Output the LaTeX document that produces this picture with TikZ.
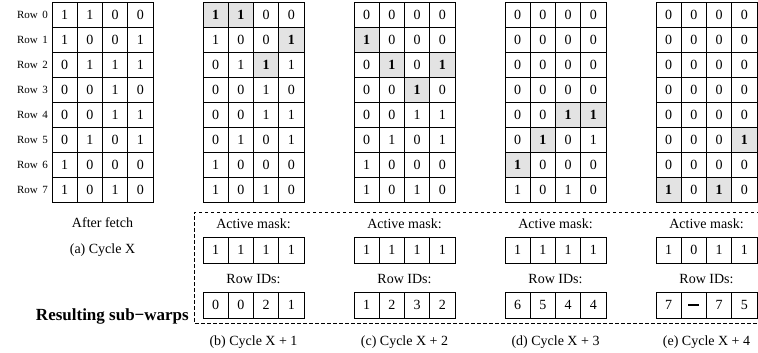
\documentclass[tikz,border=0pt]{standalone}
\usepackage{fontspec}
\setmainfont{Liberation Serif}
\tikzset{
  cell/.style={draw, line width=0.7pt, minimum width=25.25pt, minimum height=25pt, inner sep=0pt, anchor=center, font=\fontsize{14}{14}\selectfont},
  hl/.style={cell, fill=black!11, font=\fontsize{14}{14}\selectfont\bfseries},
  mcell/.style={draw, line width=0.7pt, minimum width=25.25pt, minimum height=26pt, inner sep=0pt, anchor=center, font=\fontsize{14}{14}\selectfont},
  lab/.style={inner sep=0pt, anchor=center, font=\fontsize{14}{14}\selectfont},
  rowlab/.style={inner sep=0pt, anchor=east, font=\fontsize{11}{11}\selectfont},
  boxline/.style={line width=0.8pt, dash pattern=on 3.5pt off 2.5pt}
}
\newcommand\drawgrid[3]{%
  \foreach \rowvals [count=\r from 0] in {#3} {
    \foreach \v [count=\c from 0] in \rowvals {
      \node[cell] (#1-\r-\c) at ({#2+12.625+25.25*\c},{15+25*\r}) {\v};
    }
  }
}
\newcommand\hlcells[3]{%
  \foreach \r/\c in {#3} {
    \node[hl] (#1-h-\r-\c) at ({#2+12.625+25.25*\c},{15+25*\r}) {1};
  }
}
\newcommand\subwarp[5]{%
  \node[lab] (#1-mtitle) at ({#2+50.5},224) {Active mask:};
  \foreach \v [count=\c from 0] in {#3} {
    \node[mcell] (#1-m-\c) at ({#2+12.625+25.25*\c},250) {\v};
  }
  \node[lab] (#1-ititle) at ({#2+50.5},279) {Row IDs:};
  \foreach \v [count=\c from 0] in {#4} {
    \node[mcell] (#1-i-\c) at ({#2+12.625+25.25*\c},305) {\v};
  }
  \node[lab] (#1-cap) at ({#2+50.5},342) {#5};
}
\newcommand\nodash{\rule{11pt}{1.8pt}}
\begin{document}
\begin{tikzpicture}[x=1pt,y=-1pt]
\useasboundingbox (0,0) rectangle (758,353);
% row labels
\foreach \r in {0,...,7} {
  \node[rowlab] (rl\r) at (48,{15+25*\r}) {Row\hspace{0.4em}\r};
}
% grid (a)
\drawgrid{ga}{52}{{1,1,0,0},{1,0,0,1},{0,1,1,1},{0,0,1,0},{0,0,1,1},{0,1,0,1},{1,0,0,0},{1,0,1,0}}
\node[lab] (after) at (102.5,223) {After fetch};
\node[lab] (capa) at (102.5,250) {(a) Cycle X};
% grid (b)
\drawgrid{gb}{203}{{1,1,0,0},{1,0,0,1},{0,1,1,1},{0,0,1,0},{0,0,1,1},{0,1,0,1},{1,0,0,0},{1,0,1,0}}
\hlcells{gb}{203}{0/0,0/1,1/3,2/2}
% grid (c)
\drawgrid{gc}{354}{{0,0,0,0},{1,0,0,0},{0,1,0,1},{0,0,1,0},{0,0,1,1},{0,1,0,1},{1,0,0,0},{1,0,1,0}}
\hlcells{gc}{354}{1/0,2/1,2/3,3/2}
% grid (d)
\drawgrid{gd}{505}{{0,0,0,0},{0,0,0,0},{0,0,0,0},{0,0,0,0},{0,0,1,1},{0,1,0,1},{1,0,0,0},{1,0,1,0}}
\hlcells{gd}{505}{4/2,4/3,5/1,6/0}
% grid (e)
\drawgrid{ge}{656}{{0,0,0,0},{0,0,0,0},{0,0,0,0},{0,0,0,0},{0,0,0,0},{0,0,0,1},{0,0,0,0},{1,0,1,0}}
\hlcells{ge}{656}{5/3,7/0,7/2}
% dashed region
\draw[boxline] (760,212) -- (194,212) -- (194,323) -- (760,323);
\node[inner sep=0pt, anchor=east, font=\fontsize{17}{17}\selectfont\bfseries] (res) at (189,316) {Resulting sub−warps};
% sub-warps
\subwarp{sb}{203}{1,1,1,1}{0,0,2,1}{(b) Cycle X + 1}
\subwarp{sc}{354}{1,1,1,1}{1,2,3,2}{(c) Cycle X + 2}
\subwarp{sd}{505}{1,1,1,1}{6,5,4,4}{(d) Cycle X + 3}
\subwarp{se}{656}{1,0,1,1}{7,\nodash,7,5}{(e) Cycle X + 4}
\end{tikzpicture}
\end{document}
